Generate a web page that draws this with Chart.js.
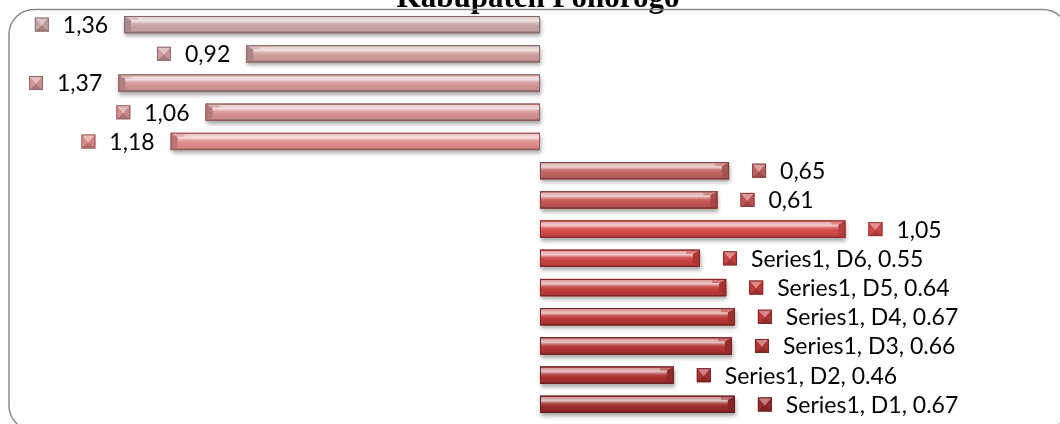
<!DOCTYPE HTML>
<html>
<head>
<title>Kabupaten Ponorogo</title>
<script src="https://cdn.jsdelivr.net/npm/chart.js"></script>
<style>
    body {
            margin: 0;
            background-color: #ffffff;
            }
    #chartDiv {
            position: relative;
            width: 1060px;
            height: 424px;
            overflow: hidden;
            }
</style>
</head>

<body>

    <div id="chartDiv">
        <canvas id="myChart" width="1060" height="424"></canvas>
    </div>

<script>

// data, top to bottom
var categories = ['D14', 'D13', 'D12', 'D11', 'D10', 'D9', 'D8', 'D7', 'D6', 'D5', 'D4', 'D3', 'D2', 'D1'];
var values = [-1.43, -1.01, -1.45, -1.15, -1.27, 0.65, 0.61, 1.05, 0.55, 0.64, 0.67, 0.66, 0.46, 0.67];
var labelText = ['1,36', '0,92', '1,37', '1,06', '1,18', '0,65', '0,61', '1,05',
    'Series1, D6, 0.55', 'Series1, D5, 0.64', 'Series1, D4, 0.67', 'Series1, D3, 0.66',
    'Series1, D2, 0.46', 'Series1, D1, 0.67'];
var barColors = ['#c9a3a3', '#cd9d9d', '#d19797', '#d48f8f', '#df8a8a', '#c26262', '#c55555',
    '#d44949', '#ca4141', '#c23b3b', '#ba3737', '#b23434', '#a83131', '#9a2c2c'];
var titleText = 'Kabupaten Ponorogo';

function mix(hex, target, amt) {
    var r = parseInt(hex.substr(1, 2), 16);
    var g = parseInt(hex.substr(3, 2), 16);
    var b = parseInt(hex.substr(5, 2), 16);
    r = Math.round(r + (target - r) * amt);
    g = Math.round(g + (target - g) * amt);
    b = Math.round(b + (target - b) * amt);
    return 'rgb(' + r + ',' + g + ',' + b + ')';
}
function tint(hex, amt) { return mix(hex, 255, amt); }
function shade(hex, amt) { return mix(hex, 0, amt); }

// frame, title, bevelled bars, markers and labels
var decoPlugin = {
    id: 'deco',
    beforeDatasetsDraw: function (chart) {
        var ctx = chart.ctx;
        var meta = chart.getDatasetMeta(0);
        ctx.save();
        ctx.shadowColor = 'rgba(0,0,0,0.35)';
        ctx.shadowBlur = 4;
        ctx.shadowOffsetY = 3;
        ctx.shadowOffsetX = 1;
        meta.data.forEach(function (bar, i) {
            var p = bar.getProps(['x', 'y', 'base', 'height'], true);
            var left = Math.min(p.x, p.base), right = Math.max(p.x, p.base);
            ctx.fillStyle = barColors[i];
            ctx.fillRect(left, p.y - p.height / 2, right - left, p.height);
        });
        ctx.restore();
    },
    afterDatasetsDraw: function (chart) {
        var ctx = chart.ctx;
        var meta = chart.getDatasetMeta(0);
        ctx.save();
        meta.data.forEach(function (bar, i) {
            var c = barColors[i];
            var p = bar.getProps(['x', 'y', 'base', 'height'], true);
            var left = Math.min(p.x, p.base), right = Math.max(p.x, p.base);
            var top = p.y - p.height / 2, bottom = p.y + p.height / 2;
            var w = right - left;

            var grad = ctx.createLinearGradient(0, top, 0, bottom);
            grad.addColorStop(0, shade(c, 0.2));
            grad.addColorStop(0.08, tint(c, 0.5));
            grad.addColorStop(0.28, tint(c, 0.72));
            grad.addColorStop(0.45, tint(c, 0.15));
            grad.addColorStop(0.6, c);
            grad.addColorStop(0.85, shade(c, 0.05));
            grad.addColorStop(1, shade(c, 0.35));
            ctx.fillStyle = grad;
            ctx.fillRect(left, top, w, p.height);

            // bevel at the outer end
            var bw = 7;
            var ex = values[i] >= 0 ? right : left;
            var dir = values[i] >= 0 ? -1 : 1;
            ctx.beginPath();
            ctx.moveTo(ex, top);
            ctx.lineTo(ex + dir * bw, top + 4);
            ctx.lineTo(ex + dir * bw, bottom - 3);
            ctx.lineTo(ex, bottom);
            ctx.closePath();
            ctx.fillStyle = shade(c, 0.15);
            ctx.fill();
            ctx.beginPath();
            ctx.moveTo(ex, top);
            ctx.lineTo(ex + dir * bw, top + 4);
            ctx.lineTo(ex + dir * 2 * bw, top + 4);
            ctx.lineTo(ex + dir * 2 * bw, top);
            ctx.closePath();
            ctx.fillStyle = tint(c, 0.3);
            ctx.fill();

            ctx.strokeStyle = shade(c, 0.35);
            ctx.lineWidth = 1;
            ctx.strokeRect(left + 0.5, top + 0.5, w - 1, p.height - 1);

            // marker and label
            ctx.font = '23px Lato';
            ctx.textBaseline = 'middle';
            var tw = ctx.measureText(labelText[i]).width;
            var mx, tx;
            if (values[i] >= 0) {
                mx = right + 23;
                tx = right + 51;
            } else {
                tx = left - 16 - tw;
                mx = tx - 28;
            }
            drawMarker(ctx, mx, p.y, 14, c);
            ctx.fillStyle = '#000000';
            ctx.textAlign = 'left';
            ctx.fillText(labelText[i], tx, p.y + 1);
        });
        ctx.restore();
    },
    afterDraw: function (chart) {
        var ctx = chart.ctx;
        ctx.save();
        ctx.font = 'bold 31px "Liberation Serif"';
        ctx.fillStyle = '#000000';
        ctx.textAlign = 'center';
        ctx.textBaseline = 'alphabetic';
        ctx.fillText(titleText, 538, 7);

        ctx.strokeStyle = '#8a8a8a';
        ctx.lineWidth = 1.5;
        ctx.beginPath();
        ctx.roundRect(9, 9.5, 1059, 421, 25);
        ctx.stroke();
        ctx.restore();
    }
};

function drawMarker(ctx, x, cy, s, c) {
    var y = cy - s / 2;
    var mxc = x + s / 2;
    var my = cy + 1;
    ctx.fillStyle = c;
    ctx.fillRect(x, y, s, s);
    ctx.fillStyle = tint(c, 0.4);
    ctx.beginPath(); ctx.moveTo(x, y); ctx.lineTo(x + s, y); ctx.lineTo(mxc, my); ctx.closePath(); ctx.fill();
    ctx.fillStyle = shade(c, 0.05);
    ctx.beginPath(); ctx.moveTo(x + s, y); ctx.lineTo(mxc, my); ctx.lineTo(x + s, y + s); ctx.closePath(); ctx.fill();
    ctx.fillStyle = shade(c, 0.2);
    ctx.beginPath(); ctx.moveTo(x, y + s); ctx.lineTo(mxc, my); ctx.lineTo(x + s, y + s); ctx.closePath(); ctx.fill();
    ctx.strokeStyle = shade(c, 0.3);
    ctx.lineWidth = 1;
    ctx.strokeRect(x + 0.5, y + 0.5, s - 1, s - 1);
}

var ctxChart = document.getElementById('myChart').getContext('2d');

var chart = new Chart(ctxChart, {
    type: 'bar',
    data: {
        labels: categories,
        datasets: [{
            label: 'Series1',
            data: values,
            backgroundColor: barColors,
            borderWidth: 0,
            barPercentage: 0.59,
            categoryPercentage: 1
        }]
    },
    options: {
        indexAxis: 'y',
        responsive: false,
        animation: false,
        devicePixelRatio: 1,
        layout: { padding: { left: 31, right: 11, top: 10, bottom: 5 } },
        plugins: {
            legend: { display: false },
            tooltip: { enabled: false },
            title: { display: false }
        },
        scales: {
            x: { display: false, min: -1.75, max: 1.75 },
            y: { display: false }
        }
    },
    plugins: [decoPlugin]
});

</script>

</body>

</html>
